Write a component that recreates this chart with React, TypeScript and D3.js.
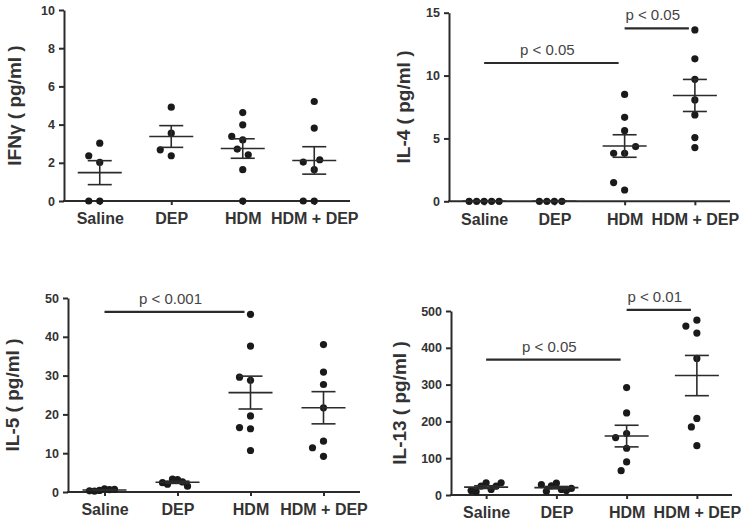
import React, { useEffect, useRef } from 'react'
import * as d3 from 'd3'

const groups = ['Saline', 'DEP', 'HDM', 'HDM + DEP']

// IFN-gamma (pg/ml)
const ifnSaline = [2.02, 2.37, 3.03, 0, 0]
const ifnDep = [4.91, 3.55, 2.37, 2.68]
const ifnHdm = [4.63, 3.99, 3.2, 3.38, 2.72, 2.42, 1.64, 0]
const ifnHdmDep = [5.21, 3.82, 1.64, 2.04, 2.16, 0, 0]
const ifnTicks = [0, 2, 4, 6, 8, 10]

// IL-4 (pg/ml)
const il4Saline = [0, 0, 0, 0, 0]
const il4Dep = [0, 0, 0, 0]
const il4Hdm = [8.5, 6.68, 5.62, 3.82, 3.82, 4.35, 0.9, 1.49]
const il4HdmDep = [13.63, 11.33, 9.7, 8.06, 6.87, 4.27, 5.07]
const il4Ticks = [0, 5, 10, 15]

// IL-5 (pg/ml)
const il5Saline = [0.8, 0.4, 0.6, 0.2, 0.7, 0.3]
const il5Dep = [3.2, 3.3, 2.6, 2.0, 1.5, 2.4]
const il5Hdm = [45.8, 37.6, 28.8, 29.6, 19.6, 16.3, 16.6, 10.7]
const il5HdmDep = [38, 30.9, 27.7, 21.7, 13.1, 9.2, 11.4]
const il5Ticks = [0, 10, 20, 30, 40, 50]

// IL-13 (pg/ml)
const il13Saline = [33, 24, 15, 9, 24, 12, 33]
const il13Dep = [32, 25, 15, 10, 12, 28, 18]
const il13Hdm = [292, 223, 167, 156, 127, 90, 66]
const il13HdmDep = [475, 459, 440, 371, 208, 185, 134]
const il13Ticks = [0, 100, 200, 300, 400, 500]

// significance brackets: [from, to, value, label]
const il4Sig = [['Saline', 'HDM', 11, 'p < 0.05'], ['HDM', 'HDM + DEP', 13.75, 'p < 0.05']]
const il5Sig = [['Saline', 'HDM', 46.4, 'p < 0.001']]
const il13Sig = [['Saline', 'HDM', 368, 'p < 0.05'], ['HDM', 'HDM + DEP', 503, 'p < 0.01']]

const panels = [
  { title: 'IFNγ ( pg/ml )', data: [ifnSaline, ifnDep, ifnHdm, ifnHdmDep], ticks: ifnTicks, sig: [],
    x0: 64, x1: 350, yTop: 10, yBottom: 201, titleX: 21 },
  { title: 'IL-4 ( pg/ml )', data: [il4Saline, il4Dep, il4Hdm, il4HdmDep], ticks: il4Ticks, sig: il4Sig,
    x0: 449, x1: 730, yTop: 12.7, yBottom: 201.3, titleX: 410 },
  { title: 'IL-5 ( pg/ml )', data: [il5Saline, il5Dep, il5Hdm, il5HdmDep], ticks: il5Ticks, sig: il5Sig,
    x0: 68, x1: 360, yTop: 298, yBottom: 492, titleX: 19 },
  { title: 'IL-13 ( pg/ml )', data: [il13Saline, il13Dep, il13Hdm, il13HdmDep], ticks: il13Ticks, sig: il13Sig,
    x0: 451, x1: 732, yTop: 311, yBottom: 495, titleX: 406 },
]

const ink = '#2b2b2b'
const font = '"Liberation Sans", Arial, Helvetica, sans-serif'

// simple beeswarm: push colliding dots sideways, then squeeze wide rows
function swarm(ys: number[], step = 5.5, minDist = 10, maxHalf = 15) {
  const placed: { x: number; y: number }[] = []
  ys.forEach(y => {
    for (let k = 0; k < 40; k++) {
      const off = k === 0 ? 0 : (k % 2 ? -1 : 1) * Math.ceil(k / 2) * step
      const ok = placed.every(p => Math.hypot(p.x - off, p.y - y) >= minDist)
      if (ok) { placed.push({ x: off, y }); break }
    }
  })
  const w = d3.max(placed, p => Math.abs(p.x)) || 0
  const s = w > maxHalf ? maxHalf / w : 1
  return placed.map(p => ({ x: p.x * s, y: p.y }))
}

export default function App() {
  const svgRef = useRef<SVGSVGElement>(null)

  useEffect(() => {
    const svg = d3.select(svgRef.current)
    svg.selectAll('*').remove()

    panels.forEach(pn => {
      const x = d3.scalePoint().domain(groups).range([pn.x0, pn.x1]).padding(0.5)
      const y = d3.scaleLinear().domain([0, d3.max(pn.ticks)!]).range([pn.yBottom, pn.yTop])
      const g = svg.append('g')

      // y axis
      const yAxis = d3.axisLeft(y).tickValues(pn.ticks).tickSize(5).tickSizeOuter(0).tickPadding(4)
      const ya = g.append('g').attr('transform', `translate(${pn.x0},0)`).call(yAxis)
      ya.select('.domain').attr('stroke', ink).attr('stroke-width', 2)
      ya.selectAll('.tick line').attr('stroke', ink).attr('stroke-width', 2)
      ya.selectAll('.tick text').attr('fill', '#333').attr('font-size', 12.5)
        .attr('font-weight', 'bold').attr('font-family', font)

      // x axis
      const xAxis = d3.axisBottom(x).tickSize(4).tickSizeOuter(0).tickPadding(8)
      const xa = g.append('g').attr('transform', `translate(0,${y(0)})`).call(xAxis)
      xa.select('.domain').attr('stroke', ink).attr('stroke-width', 2)
        .attr('d', `M${pn.x0 - 1},0H${pn.x1}`)
      xa.selectAll('.tick line').attr('stroke', ink).attr('stroke-width', 2)
      xa.selectAll('.tick text').attr('fill', '#333').attr('font-size', 16)
        .attr('font-weight', 'bold').attr('font-family', font)

      // y title
      g.append('text')
        .attr('transform', `translate(${pn.titleX},${(pn.yTop + pn.yBottom) / 2}) rotate(-90)`)
        .attr('text-anchor', 'middle').attr('font-size', 19).attr('font-weight', 'bold')
        .attr('font-family', font).attr('fill', '#333')
        .text(pn.title)

      // dots + mean/SEM per group
      pn.data.forEach((vals, i) => {
        const cx = x(groups[i])!
        const pts = swarm(vals.map(v => y(v)))
        g.append('g').selectAll('circle').data(pts).join('circle')
          .attr('cx', d => cx + d.x).attr('cy', d => d.y).attr('r', 3.6).attr('fill', '#1a1a1a')

        const m = d3.mean(vals)!
        const sem = (d3.deviation(vals) || 0) / Math.sqrt(vals.length)
        const eg = g.append('g').attr('stroke', ink).attr('stroke-width', 1.6)
        eg.append('line').attr('x1', cx - 22).attr('x2', cx + 22).attr('y1', y(m)).attr('y2', y(m))
        eg.append('line').attr('x1', cx).attr('x2', cx).attr('y1', y(m - sem)).attr('y2', y(m + sem))
        eg.append('line').attr('x1', cx - 12).attr('x2', cx + 12).attr('y1', y(m + sem)).attr('y2', y(m + sem))
        eg.append('line').attr('x1', cx - 12).attr('x2', cx + 12).attr('y1', y(m - sem)).attr('y2', y(m - sem))
      })

      // significance bars
      pn.sig.forEach(([a, b, v, label]: any) => {
        const xa1 = x(a)!, xb1 = x(b)! - 6
        g.append('line').attr('x1', xa1).attr('x2', xb1).attr('y1', y(v)).attr('y2', y(v))
          .attr('stroke', ink).attr('stroke-width', 2.2)
        g.append('text').attr('x', (xa1 + xb1) / 2 - 4).attr('y', y(v) - 8)
          .attr('text-anchor', 'middle').attr('font-size', 15).attr('font-family', font)
          .attr('fill', '#444').text(label)
      })
    })
  })

  return (
    <svg
      ref={svgRef}
      width={744}
      height={524}
      style={{ position: 'absolute', left: 0, top: 0, background: '#fff' }}
    />
  )
}
